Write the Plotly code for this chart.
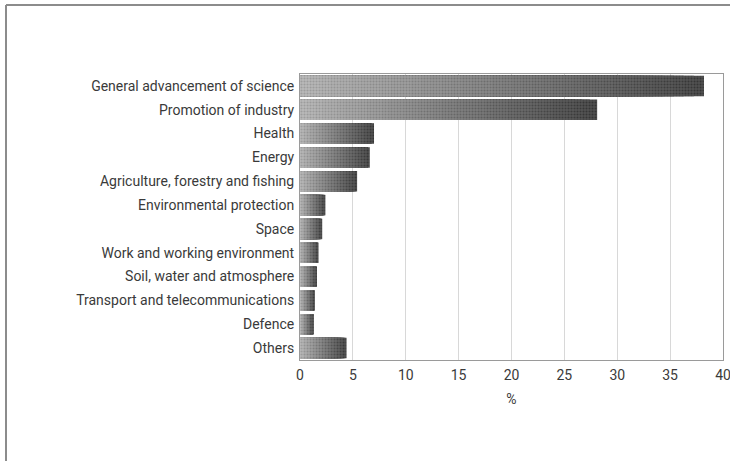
import plotly.graph_objects as go

# Share of public R&D funding by objective (%)
categories = [
    "General advancement of science",
    "Promotion of industry",
    "Health",
    "Energy",
    "Agriculture, forestry and fishing",
    "Environmental protection",
    "Space",
    "Work and working environment",
    "Soil, water and atmosphere",
    "Transport and telecommunications",
    "Defence",
    "Others",
]
shares = [38.2, 28.1, 7.0, 6.6, 5.4, 2.4, 2.1, 1.75, 1.6, 1.4, 1.3, 4.4]
tick_values = [0, 5, 10, 15, 20, 25, 30, 35, 40]

FONT = "Roboto, Liberation Sans, sans-serif"
TXT = "#3a3a3a"

fig = go.Figure()

# Each bar is shaded light-to-dark from left to right: stack progressively
# shorter, lighter copies of the same bar on top of each other.
steps = 40
dark, light = 80, 185
for j in range(steps):
    frac = 1 - j / steps
    g = int(dark + (light - dark) * j / (steps - 1))
    col = f"rgb({g},{g},{g})"
    d = max(g - 55, 0)
    dot = f"rgb({d},{d},{d})"
    fig.add_trace(go.Bar(
        y=categories,
        x=[v * frac for v in shares],
        orientation="h",
        marker=dict(
            color=col,
            line=dict(width=0),
            pattern=dict(shape=".", size=3, solidity=0.4, fgcolor=dot, bgcolor=col),
        ),
        hoverinfo="skip",
        showlegend=False,
    ))

fig.update_layout(
    width=730, height=461,
    margin=dict(l=300, r=7, t=74, b=101, autoexpand=False),
    paper_bgcolor="white",
    plot_bgcolor="white",
    barmode="overlay",
    bargap=0.14,
    font=dict(family=FONT, size=14, color=TXT),
    xaxis=dict(
        range=[0, 40],
        tickvals=tick_values,
        ticklabeloverflow="allow",
        automargin=False,
        showgrid=True,
        gridcolor="#d8d8d8",
        gridwidth=1,
        showline=True,
        linecolor="#9a9a9a",
        linewidth=1,
        mirror=True,
        zeroline=False,
        ticks="",
        ticklabelstandoff=2,
        title=dict(text="%", font=dict(family=FONT, size=14, color=TXT), standoff=12),
        tickfont=dict(family=FONT, size=14, color=TXT),
    ),
    yaxis=dict(
        categoryorder="array",
        categoryarray=categories[::-1],
        automargin=False,
        showline=True,
        linecolor="#9a9a9a",
        linewidth=1,
        mirror=True,
        showgrid=False,
        ticks="",
        ticklabelstandoff=2,
        tickfont=dict(family=FONT, size=14, color=TXT),
    ),
    shapes=[
        # outer frame (left and top edges visible)
        dict(type="line", xref="paper", yref="paper",
             x0=(6 - 300) / 423, x1=(6 - 300) / 423,
             y0=(360 - 5) / 286, y1=(360 - 470) / 286,
             line=dict(color="#8c8c8c", width=2)),
        dict(type="line", xref="paper", yref="paper",
             x0=(6 - 300) / 423, x1=(740 - 300) / 423,
             y0=(360 - 5) / 286, y1=(360 - 5) / 286,
             line=dict(color="#8c8c8c", width=2)),
    ],
)

fig.write_html("out.html")
